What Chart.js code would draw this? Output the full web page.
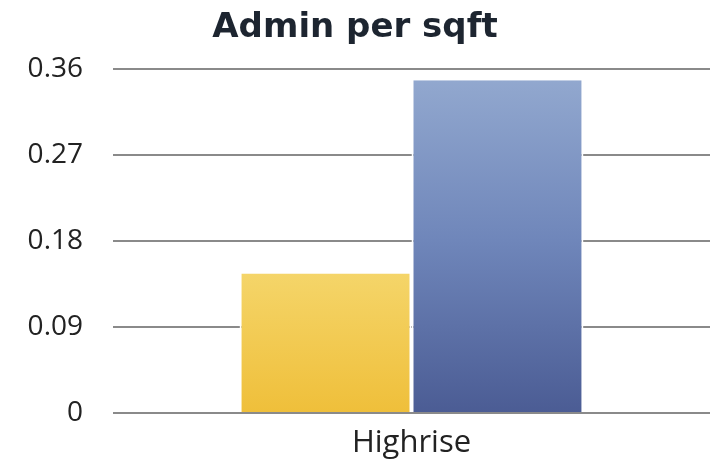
<!DOCTYPE html>
<html>
<head>
<meta charset="utf-8">
<style>
  html, body { margin: 0; padding: 0; background: #fff; overflow: hidden; }
  #wrap { position: relative; width: 710px; height: 465px; }
</style>
</head>
<body>
<div id="wrap">
  <canvas id="adminChart" width="710" height="465"></canvas>
</div>

<script src="https://cdn.jsdelivr.net/npm/chart.js@4.4.1/dist/chart.umd.min.js"></script>
<script>
  const categories = ['Highrise'];
  const seriesA = [0.146];
  const seriesB = [0.348];
  const yTicks = [0, 0.09, 0.18, 0.27, 0.36];

  // vertical gradient fill, lighter at the top of the bar
  function vGradient(topColor, midColor, bottomColor) {
    return function(context) {
      const area = context.chart.chartArea;
      if (!area) return bottomColor;
      const g = context.chart.ctx.createLinearGradient(0, area.top, 0, area.bottom);
      g.addColorStop(0, topColor);
      g.addColorStop(0.5, midColor);
      g.addColorStop(1, bottomColor);
      return g;
    };
  }

  const ctx = document.getElementById('adminChart');

  new Chart(ctx, {
    type: 'bar',
    data: {
      labels: categories,
      datasets: [
        {
          label: 'Series A',
          data: seriesA,
          backgroundColor: vGradient('#fbeaa0', '#f6da74', '#efbf3a'),
          borderColor: '#ffffff',
          borderWidth: { left: 2, right: 2, top: 0, bottom: 0 },
          borderSkipped: false
        },
        {
          label: 'Series B',
          data: seriesB,
          backgroundColor: vGradient('#94aad0', '#6f86ba', '#4b5c94'),
          borderColor: '#ffffff',
          borderWidth: { left: 2, right: 2, top: 0, bottom: 0 },
          borderSkipped: false
        }
      ]
    },
    options: {
      responsive: false,
      animation: false,
      layout: { padding: 0 },
      datasets: {
        bar: { categoryPercentage: 0.576, barPercentage: 1.0 }
      },
      scales: {
        x: {
          grid: { display: false, drawTicks: false },
          border: { display: false },
          afterFit: function(scale) {
            scale.height = 52;
            // let the gridlines run to the right edge
            scale.paddingLeft = 0;
            scale.paddingRight = 0;
          },
          ticks: {
            color: '#222222',
            padding: 12,
            font: { family: 'Open Sans', size: 31 }
          }
        },
        y: {
          min: 0,
          max: 0.36,
          afterBuildTicks: function(scale) {
            scale.ticks = yTicks.map(v => ({ value: v }));
          },
          afterFit: function(scale) { scale.width = 113; },
          grid: { color: '#8a8a8a', lineWidth: 2, drawTicks: false },
          border: { display: false },
          ticks: {
            color: '#222222',
            padding: 30,
            font: { family: 'Open Sans', size: 28 },
            callback: v => String(v)
          }
        }
      },
      plugins: {
        legend: { display: false },
        tooltip: { enabled: false },
        title: {
          display: true,
          text: 'Admin per sqft',
          color: '#1d2530',
          padding: { top: 8, bottom: 20 },
          font: { family: 'DejaVu Sans', size: 34, weight: 'bold' }
        }
      }
    }
  });
</script>
</body>
</html>
